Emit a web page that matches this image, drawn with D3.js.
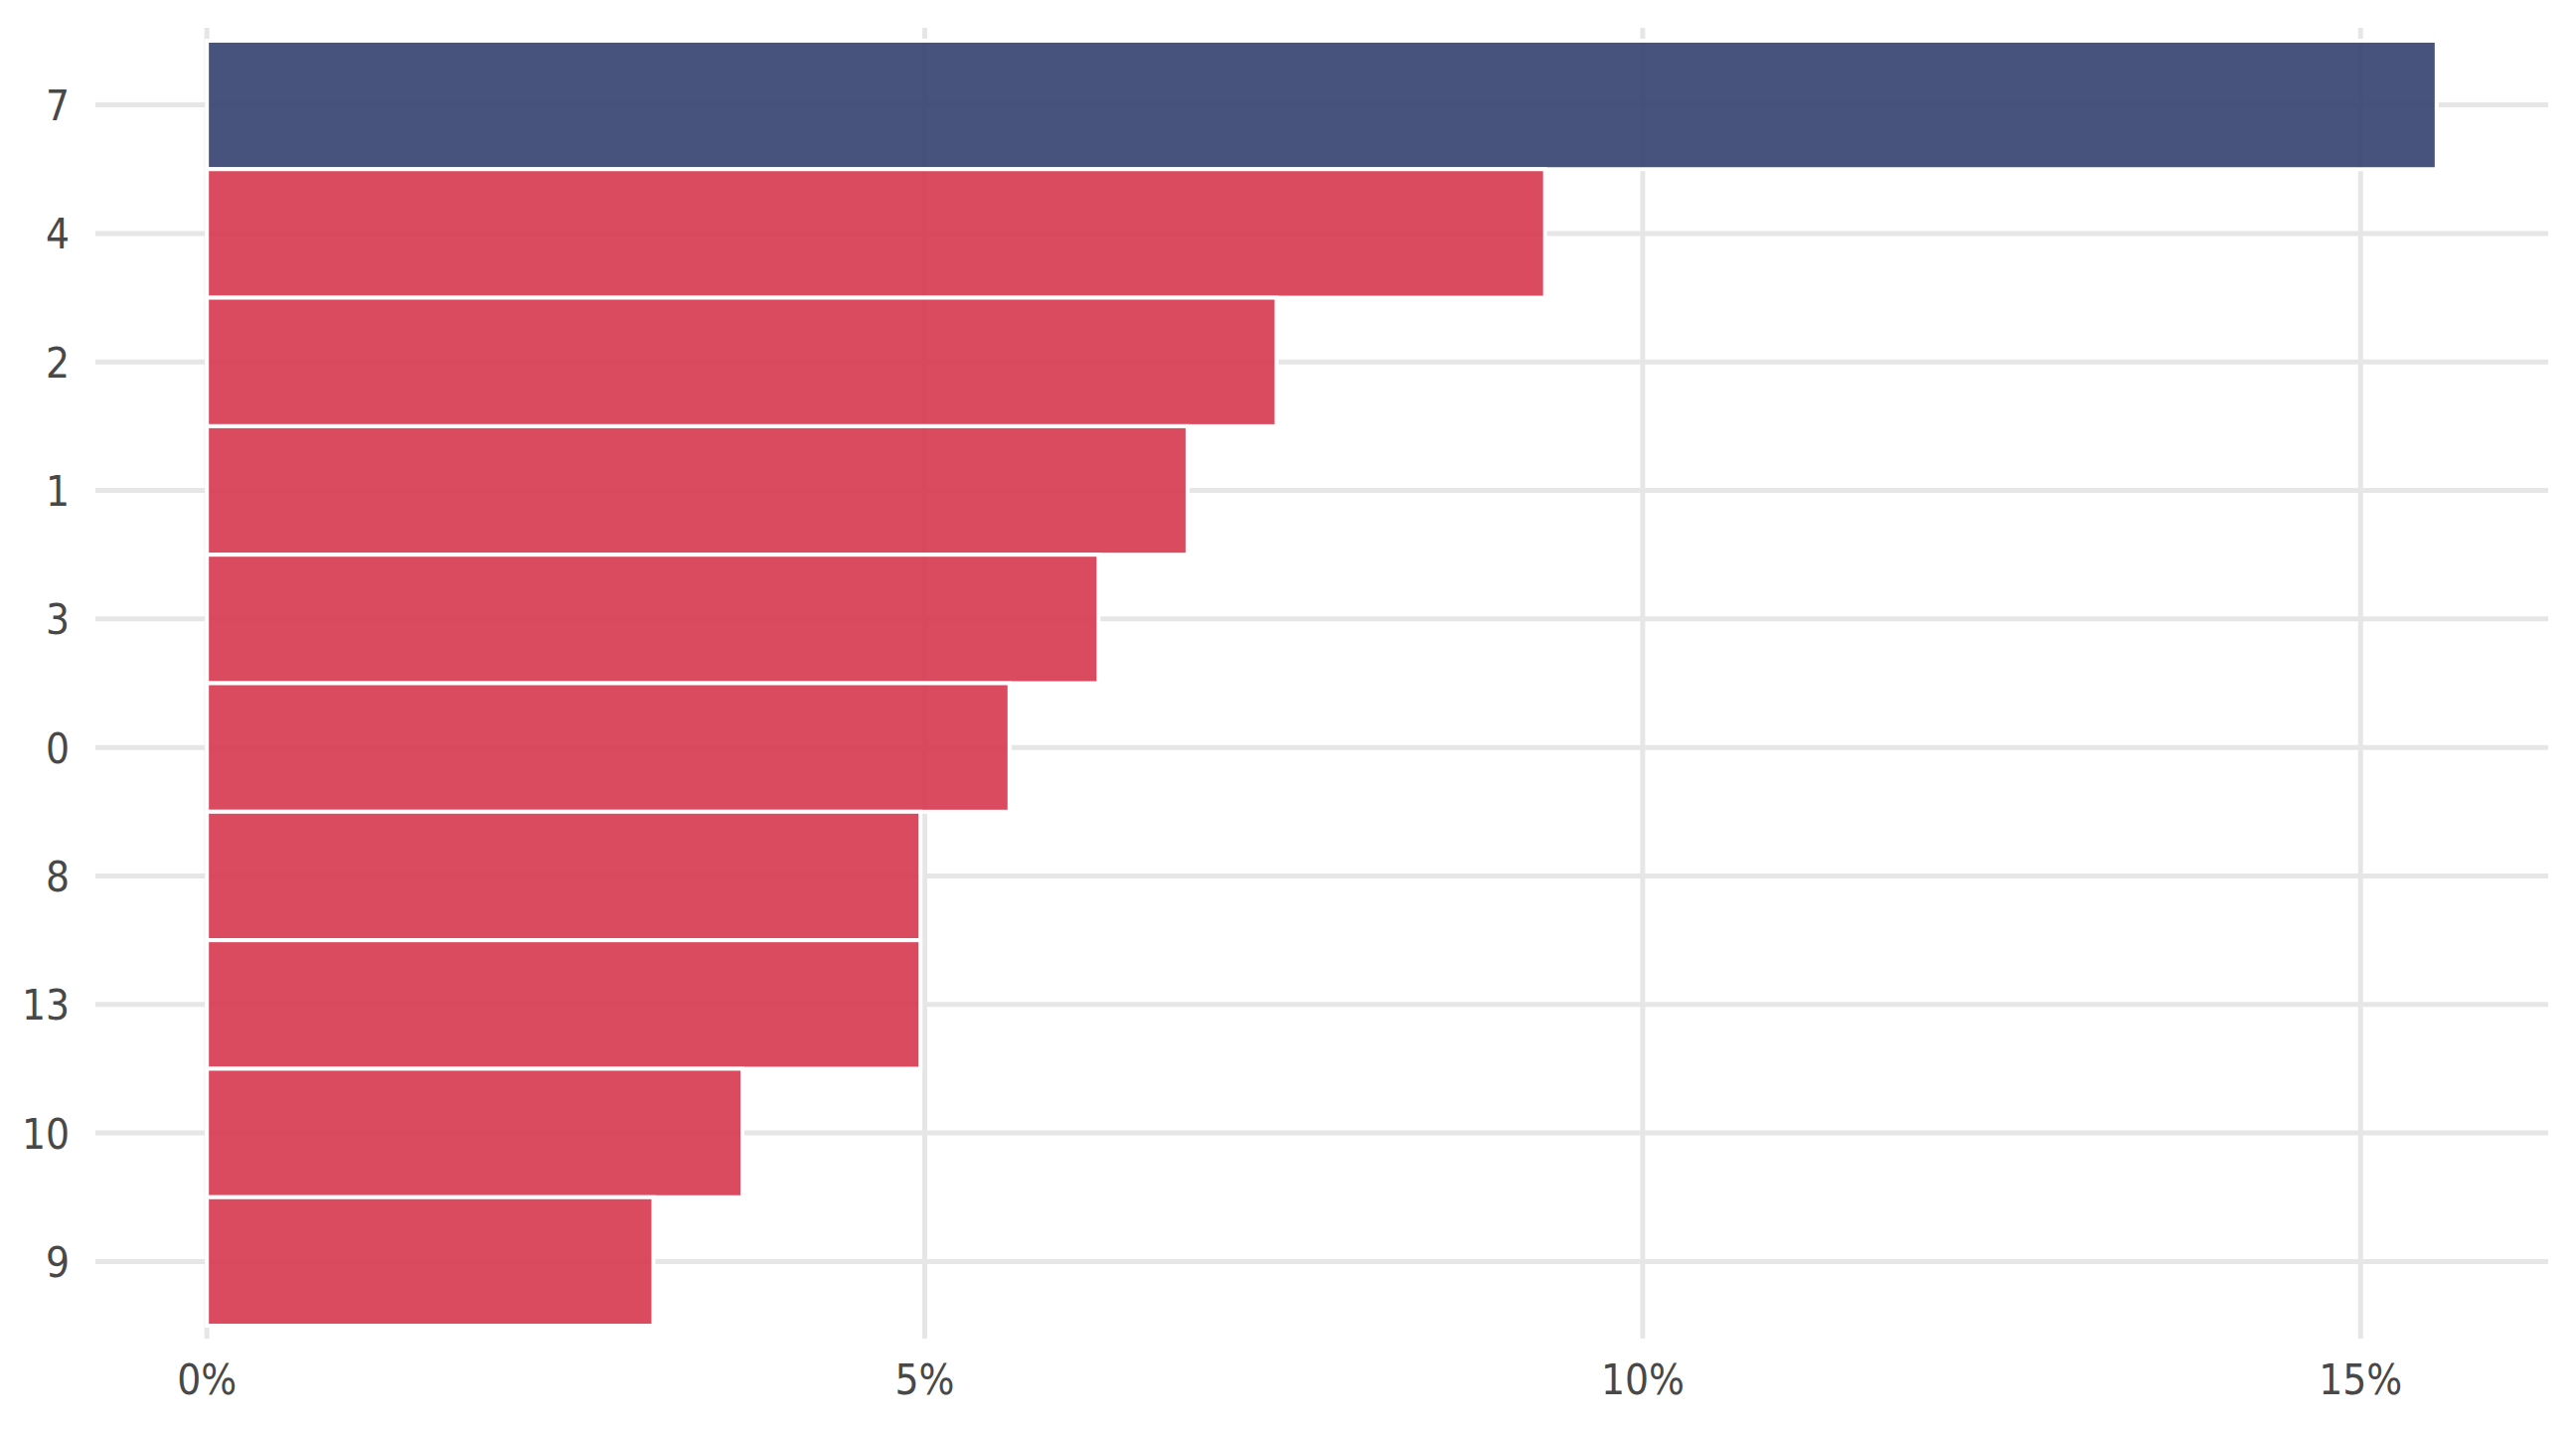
<!DOCTYPE html>
<html>
<head>
<meta charset="utf-8">
<script src="https://cdn.jsdelivr.net/npm/d3@7"></script>
<style>
  html, body { margin: 0; padding: 0; background: #ffffff; }
  svg { display: block; }
</style>
</head>
<body>
<svg id="chart" width="2592" height="1440"></svg>
<script>
// Data (percent share), top to bottom
const categories = ["7", "4", "2", "1", "3", "0", "8", "13", "10", "9"];
const values = [15.53, 9.32, 7.45, 6.83, 6.21, 5.59, 4.97, 4.97, 3.73, 3.11];
const highlight = ["7"];
const xTicks = [0, 5, 10, 15];
const xTickLabels = ["0%", "5%", "10%", "15%"];

const W = 2592, H = 1440;
const panel = { left: 96, right: 2564, top: 28, bottom: 1347 };

const svg = d3.select("#chart");
const maxV = d3.max(values);

const x = d3.scaleLinear()
  .domain([-0.05 * maxV, 1.05 * maxV])
  .range([panel.left, panel.right]);

const y = d3.scaleBand()
  .domain(categories)
  .range([panel.top, panel.bottom])
  .paddingInner(0)
  .paddingOuter(0.1);

const gridColor = "#e6e6e6";
const font = "'Liberation Sans Narrow', 'DejaVu Sans Condensed', 'Liberation Sans', sans-serif";
const textColor = "#484848";

// Gridlines
svg.append("g").selectAll("line.v")
  .data(xTicks).join("line")
  .attr("x1", d => x(d)).attr("x2", d => x(d))
  .attr("y1", panel.top).attr("y2", panel.bottom)
  .attr("stroke", gridColor).attr("stroke-width", 5);

svg.append("g").selectAll("line.h")
  .data(categories).join("line")
  .attr("x1", panel.left).attr("x2", panel.right)
  .attr("y1", d => y(d) + y.bandwidth() / 2)
  .attr("y2", d => y(d) + y.bandwidth() / 2)
  .attr("stroke", gridColor).attr("stroke-width", 5);

// Bars
const data = categories.map((c, i) => ({ cat: c, value: values[i] }));
svg.append("g").selectAll("rect")
  .data(data).join("rect")
  .attr("x", x(0))
  .attr("y", d => y(d.cat))
  .attr("width", d => x(d.value) - x(0))
  .attr("height", y.bandwidth())
  .attr("fill", d => highlight.includes(d.cat) ? "#333f6f" : "#d6374e")
  .attr("fill-opacity", 0.9)
  .attr("stroke", "#ffffff")
  .attr("stroke-width", 4);

// Y axis labels
svg.append("g").selectAll("text")
  .data(categories).join("text")
  .attr("x", 70)
  .attr("y", d => y(d) + y.bandwidth() / 2)
  .attr("dy", "0.37em")
  .attr("text-anchor", "end")
  .attr("font-family", font)
  .attr("font-size", 42)
  .attr("fill", textColor)
  .text(d => d);

// X axis labels
svg.append("g").selectAll("text")
  .data(xTicks).join("text")
  .attr("x", d => x(d))
  .attr("y", 1403)
  .attr("text-anchor", "middle")
  .attr("font-family", font)
  .attr("font-size", 42)
  .attr("fill", textColor)
  .text((d, i) => xTickLabels[i]);
</script>
</body>
</html>
